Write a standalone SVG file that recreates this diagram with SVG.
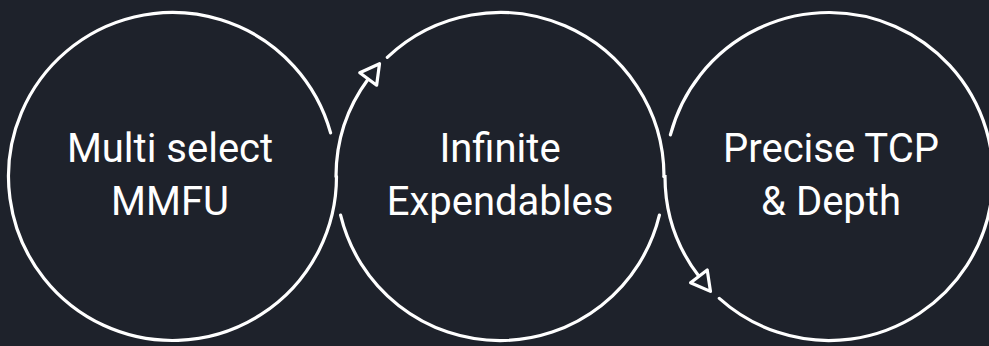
<svg xmlns="http://www.w3.org/2000/svg" width="989" height="346" viewBox="0 0 989 346">
<style>
.ring{fill:none;stroke:#ffffff;stroke-width:3.2;stroke-linecap:round}
.lbl{font-family:Roboto,"Liberation Sans",sans-serif;font-size:40px;font-weight:400;fill:#ffffff;text-anchor:middle}
</style>
<defs>
<marker id="arr" markerUnits="userSpaceOnUse" viewBox="-4 -14 28 28" markerWidth="28" markerHeight="28" refX="0" refY="0" orient="auto" overflow="visible">
<path d="M0,-10.5 L19,0 L0,10.5 Z" fill="#1e222b" stroke="#ffffff" stroke-width="3.2" stroke-linejoin="round"/>
</marker>
</defs>
<rect width="989" height="346" fill="#1e222b"/>
<g id="node-multi-select">
<path class="ring" d="M336.5,176.5 A164,164 0 1 1 330.6,132.9"/>
<text class="lbl" x="170" y="161.5">Multi select</text>
<text class="lbl" x="170" y="215">MMFU</text>
</g>
<g id="node-infinite-expendables">
<path class="ring" d="M387.3,57.3 A164,164 0 0 1 664,176.5"/>
<path class="ring" d="M340.6,215.1 A164,164 0 0 0 659.4,215.1"/>
<text class="lbl" x="500" y="161.5">Infinite</text>
<text class="lbl" x="500" y="215">Expendables</text>
</g>
<g id="node-precise-tcp">
<path class="ring" d="M670.4,134.9 A164,164 0 1 1 719.3,298.4"/>
<text class="lbl" x="831" y="161.5">Precise TCP</text>
<text class="lbl" x="831" y="215">&amp; Depth</text>
</g>
<g id="connectors">
<path class="ring" d="M336,176.5 A164,164 0 0 1 368.2,79" marker-end="url(#arr)"/>
<path class="ring" d="M664,176.5 L665,176.5 A164,164 0 0 0 698.9,276.3" marker-end="url(#arr)"/>
</g>
</svg>
